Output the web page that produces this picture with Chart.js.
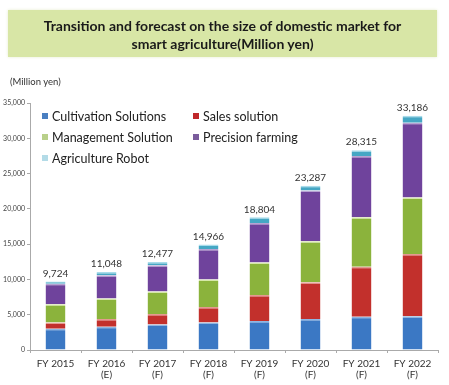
<!DOCTYPE html>
<html>
<head>
<meta charset="utf-8">
<script src="https://cdn.jsdelivr.net/npm/chart.js@4.4.1/dist/chart.umd.min.js"></script>
<style>
    body { margin: 0; background: #fff; font-family: Lato, 'Open Sans', sans-serif; }
    #wrap { position: relative; width: 449px; height: 385px; overflow: hidden; }
    #marketChart { position: absolute; left: 0; top: 0; }
    .title-box {
        position: absolute; left: 8px; top: 10px; width: 429px; height: 47px;
        background: #d8e6a6; box-shadow: 0 0 3px #e6ecd0;
        text-align: center; font-weight: bold; font-size: 14px; line-height: 18px;
        color: #1a1a1a; padding-top: 7px; box-sizing: border-box;
    }
    .unit { position: absolute; left: 10px; top: 76px; font-size: 9.5px; color: #333; }
    .legend-item { position: absolute; font-size: 12.5px; color: #222; line-height: 14px; white-space: nowrap; }
    .legend-item span { display: inline-block; width: 6px; height: 6px; margin-right: 4px; vertical-align: 2px; }
</style>
</head>
<body>
<div id="wrap">
    <canvas id="marketChart" width="449" height="385"></canvas>
    <div class="title-box">Transition and forecast on the size of domestic market for<br>smart agriculture(Million yen)</div>
    <div class="unit">(Million yen)</div>
    <div id="legend"></div>
</div>
<script>
const categories = [
    ['FY 2015'], ['FY 2016', '(E)'], ['FY 2017', '(F)'], ['FY 2018', '(F)'],
    ['FY 2019', '(F)'], ['FY 2020', '(F)'], ['FY 2021', '(F)'], ['FY 2022', '(F)']
];
const cultivation = [3000, 3300, 3600, 3900, 4100, 4400, 4700, 4800];
const sales = [900, 1100, 1500, 2200, 3700, 5200, 7100, 8800];
const management = [2600, 2900, 3200, 3900, 4600, 5800, 7000, 8000];
const precision = [2900, 3300, 3700, 4300, 5600, 7200, 8700, 10600];
const robot = [324, 448, 477, 666, 804, 687, 815, 986];
const yTicks = [0, 5000, 10000, 15000, 20000, 25000, 30000, 35000];

const seriesInfo = [
    { label: 'Cultivation Solutions', data: cultivation, color: '#3b78c4', top: '#8fb6e3', swatch: '#4a7fc1' },
    { label: 'Sales solution', data: sales, color: '#c2302c', top: '#e59a90', swatch: '#c0282a' },
    { label: 'Management Solution', data: management, color: '#8bb33c', top: '#d6e8a8', swatch: '#b9d08a' },
    { label: 'Precision farming', data: precision, color: '#6f439c', top: '#b7a3d3', swatch: '#7a5c9c' },
    { label: 'Agriculture Robot', data: robot, color: '#45a7c4', top: '#a8dbea', swatch: '#b3dbe7' }
];

// legend in two columns, drawn as html
const legendPos = [[42, 110], [193, 110], [42, 131], [193, 131], [42, 152]];
const legendEl = document.getElementById('legend');
seriesInfo.forEach((s, i) => {
    const d = document.createElement('div');
    d.className = 'legend-item';
    d.style.left = legendPos[i][0] + 'px';
    d.style.top = legendPos[i][1] + 'px';
    d.innerHTML = '<span style="background:' + s.swatch + '"></span>' + s.label;
    legendEl.appendChild(d);
});

const totalsPlugin = {
    id: 'totals',
    afterDatasetsDraw(chart) {
        const ctx = chart.ctx;
        const yScale = chart.scales.y;
        const xScale = chart.scales.x;
        ctx.save();
        ctx.font = '10px Lato, sans-serif';
        ctx.fillStyle = '#333';
        ctx.textAlign = 'center';
        ctx.textBaseline = 'bottom';
        categories.forEach((c, i) => {
            const total = seriesInfo.reduce((a, s) => a + s.data[i], 0);
            ctx.fillText(total.toLocaleString('en-US'), xScale.getPixelForValue(i), yScale.getPixelForValue(total) - 3);
        });
        ctx.restore();
    }
};

const ctx = document.getElementById('marketChart').getContext('2d');
new Chart(ctx, {
    type: 'bar',
    data: {
        labels: categories,
        datasets: seriesInfo.map(s => ({
            label: s.label,
            data: s.data,
            backgroundColor: s.color,
            borderColor: s.top,
            borderWidth: { top: 1.5, left: 0, right: 0, bottom: 0 },
            borderSkipped: false,
            barPercentage: 0.78,
            categoryPercentage: 0.5
        }))
    },
    options: {
        responsive: false,
        animation: false,
        layout: { padding: { left: 0, right: 11, top: 103, bottom: 0 } },
        plugins: {
            legend: { display: false },
            tooltip: { enabled: false }
        },
        scales: {
            x: {
                stacked: true,
                grid: { display: true, drawOnChartArea: false, tickLength: 3, color: '#aaa' },
                border: { color: '#aaa' },
                ticks: { color: '#333', font: { family: 'Lato', size: 10, lineHeight: 1.1 }, maxRotation: 0, padding: 5 },
                afterFit(scale) { scale.height = 35; }
            },
            y: {
                stacked: true,
                min: 0,
                max: 35000,
                afterBuildTicks(scale) { scale.ticks = yTicks.map(v => ({ value: v })); },
                grid: { display: true, drawOnChartArea: false, tickLength: 3, color: '#aaa' },
                border: { color: '#aaa' },
                ticks: {
                    color: '#444',
                    font: { family: 'Lato', size: 7 },
                    padding: 2,
                    callback: v => v.toLocaleString('en-US')
                },
                afterFit(scale) { scale.width = 30; }
            }
        }
    },
    plugins: [totalsPlugin]
});
</script>
</body>
</html>
